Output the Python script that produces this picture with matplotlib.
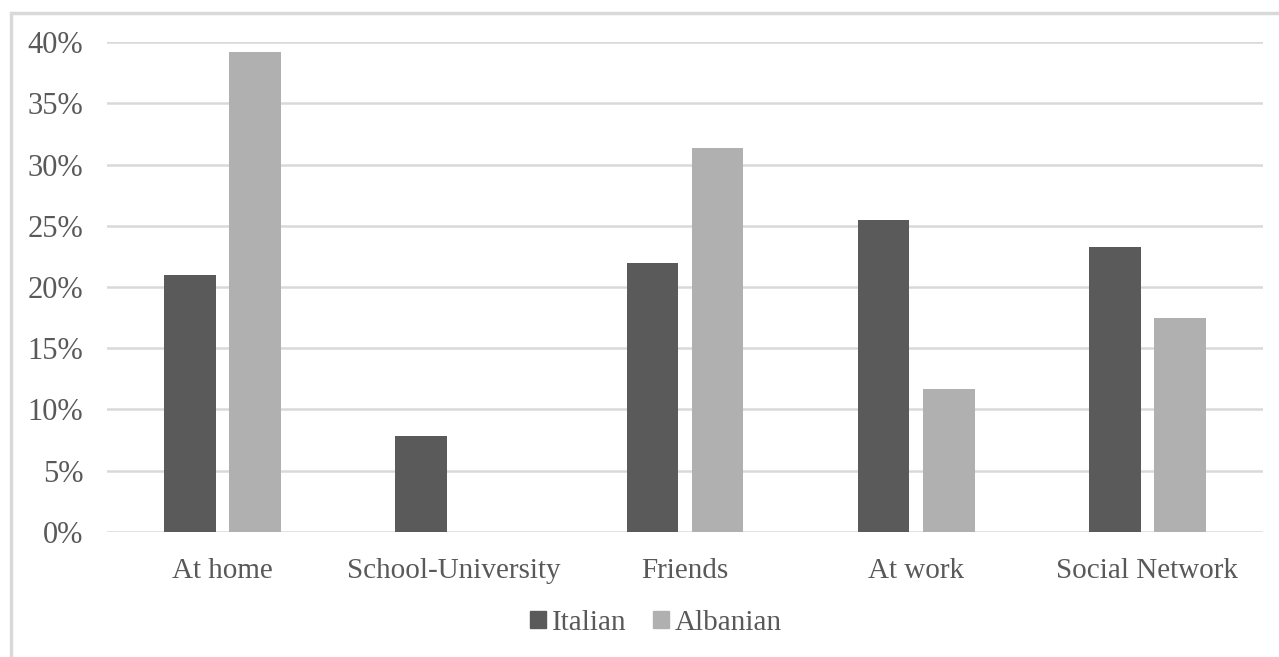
import numpy as np
import matplotlib.pyplot as plt
from matplotlib.patches import Rectangle, Patch
from matplotlib.ticker import PercentFormatter

categories = ["At home", "School-University", "Friends", "At work", "Social Network"]
italian = [21.0, 7.8, 22.0, 25.5, 23.3]
albanian = [39.2, 0.0, 31.4, 11.7, 17.5]
yticks = [0, 5, 10, 15, 20, 25, 30, 35, 40]

dark = "#5a5a5a"
light = "#b0b0b0"
txt = "#595959"

plt.rcParams['font.family'] = ['Liberation Serif', 'DejaVu Serif']

fig = plt.figure(figsize=(12.79, 6.57), dpi=100)
ax = fig.add_axes([107 / 1279, 1 - 531.7 / 657, 1156 / 1279, 489.4 / 657])

x = np.arange(len(categories))
w = 0.223
ax.bar(x - 0.141, italian, w, color=dark, zorder=3)
ax.bar(x + 0.141, albanian, w, color=light, zorder=3)

ax.set_xlim(-0.5, len(categories) - 0.5)
ax.set_ylim(0, 40)
ax.set_yticks(yticks)
ax.yaxis.set_major_formatter(PercentFormatter(decimals=0))
ax.set_xticks(x)
ax.set_xticklabels(categories)
ax.tick_params(axis='both', length=0, labelcolor=txt)
ax.tick_params(axis='y', pad=17, labelsize=22)
ax.tick_params(axis='x', pad=19, labelsize=21)
ax.grid(axis='y', color="#d9d9d9", linewidth=1.8, zorder=0)
for s in ax.spines.values():
    s.set_visible(False)

handles = [Patch(color=dark, label="Italian"), Patch(color=light, label="Albanian")]
fig.legend(handles=handles, loc='center', bbox_to_anchor=(656 / 1279, 1 - 623 / 657),
           ncol=2, frameon=False, fontsize=21, labelcolor=txt,
           handlelength=0.55, handleheight=0.55, handletextpad=0.2, columnspacing=0.9)

fig.patches.append(Rectangle((11 / 1279, -0.1), 1.2, 1 - 13 / 657 + 0.1,
                             transform=fig.transFigure, fill=False,
                             edgecolor="#d9d9d9", linewidth=2.5))

fig.savefig("out.png", dpi=100)
